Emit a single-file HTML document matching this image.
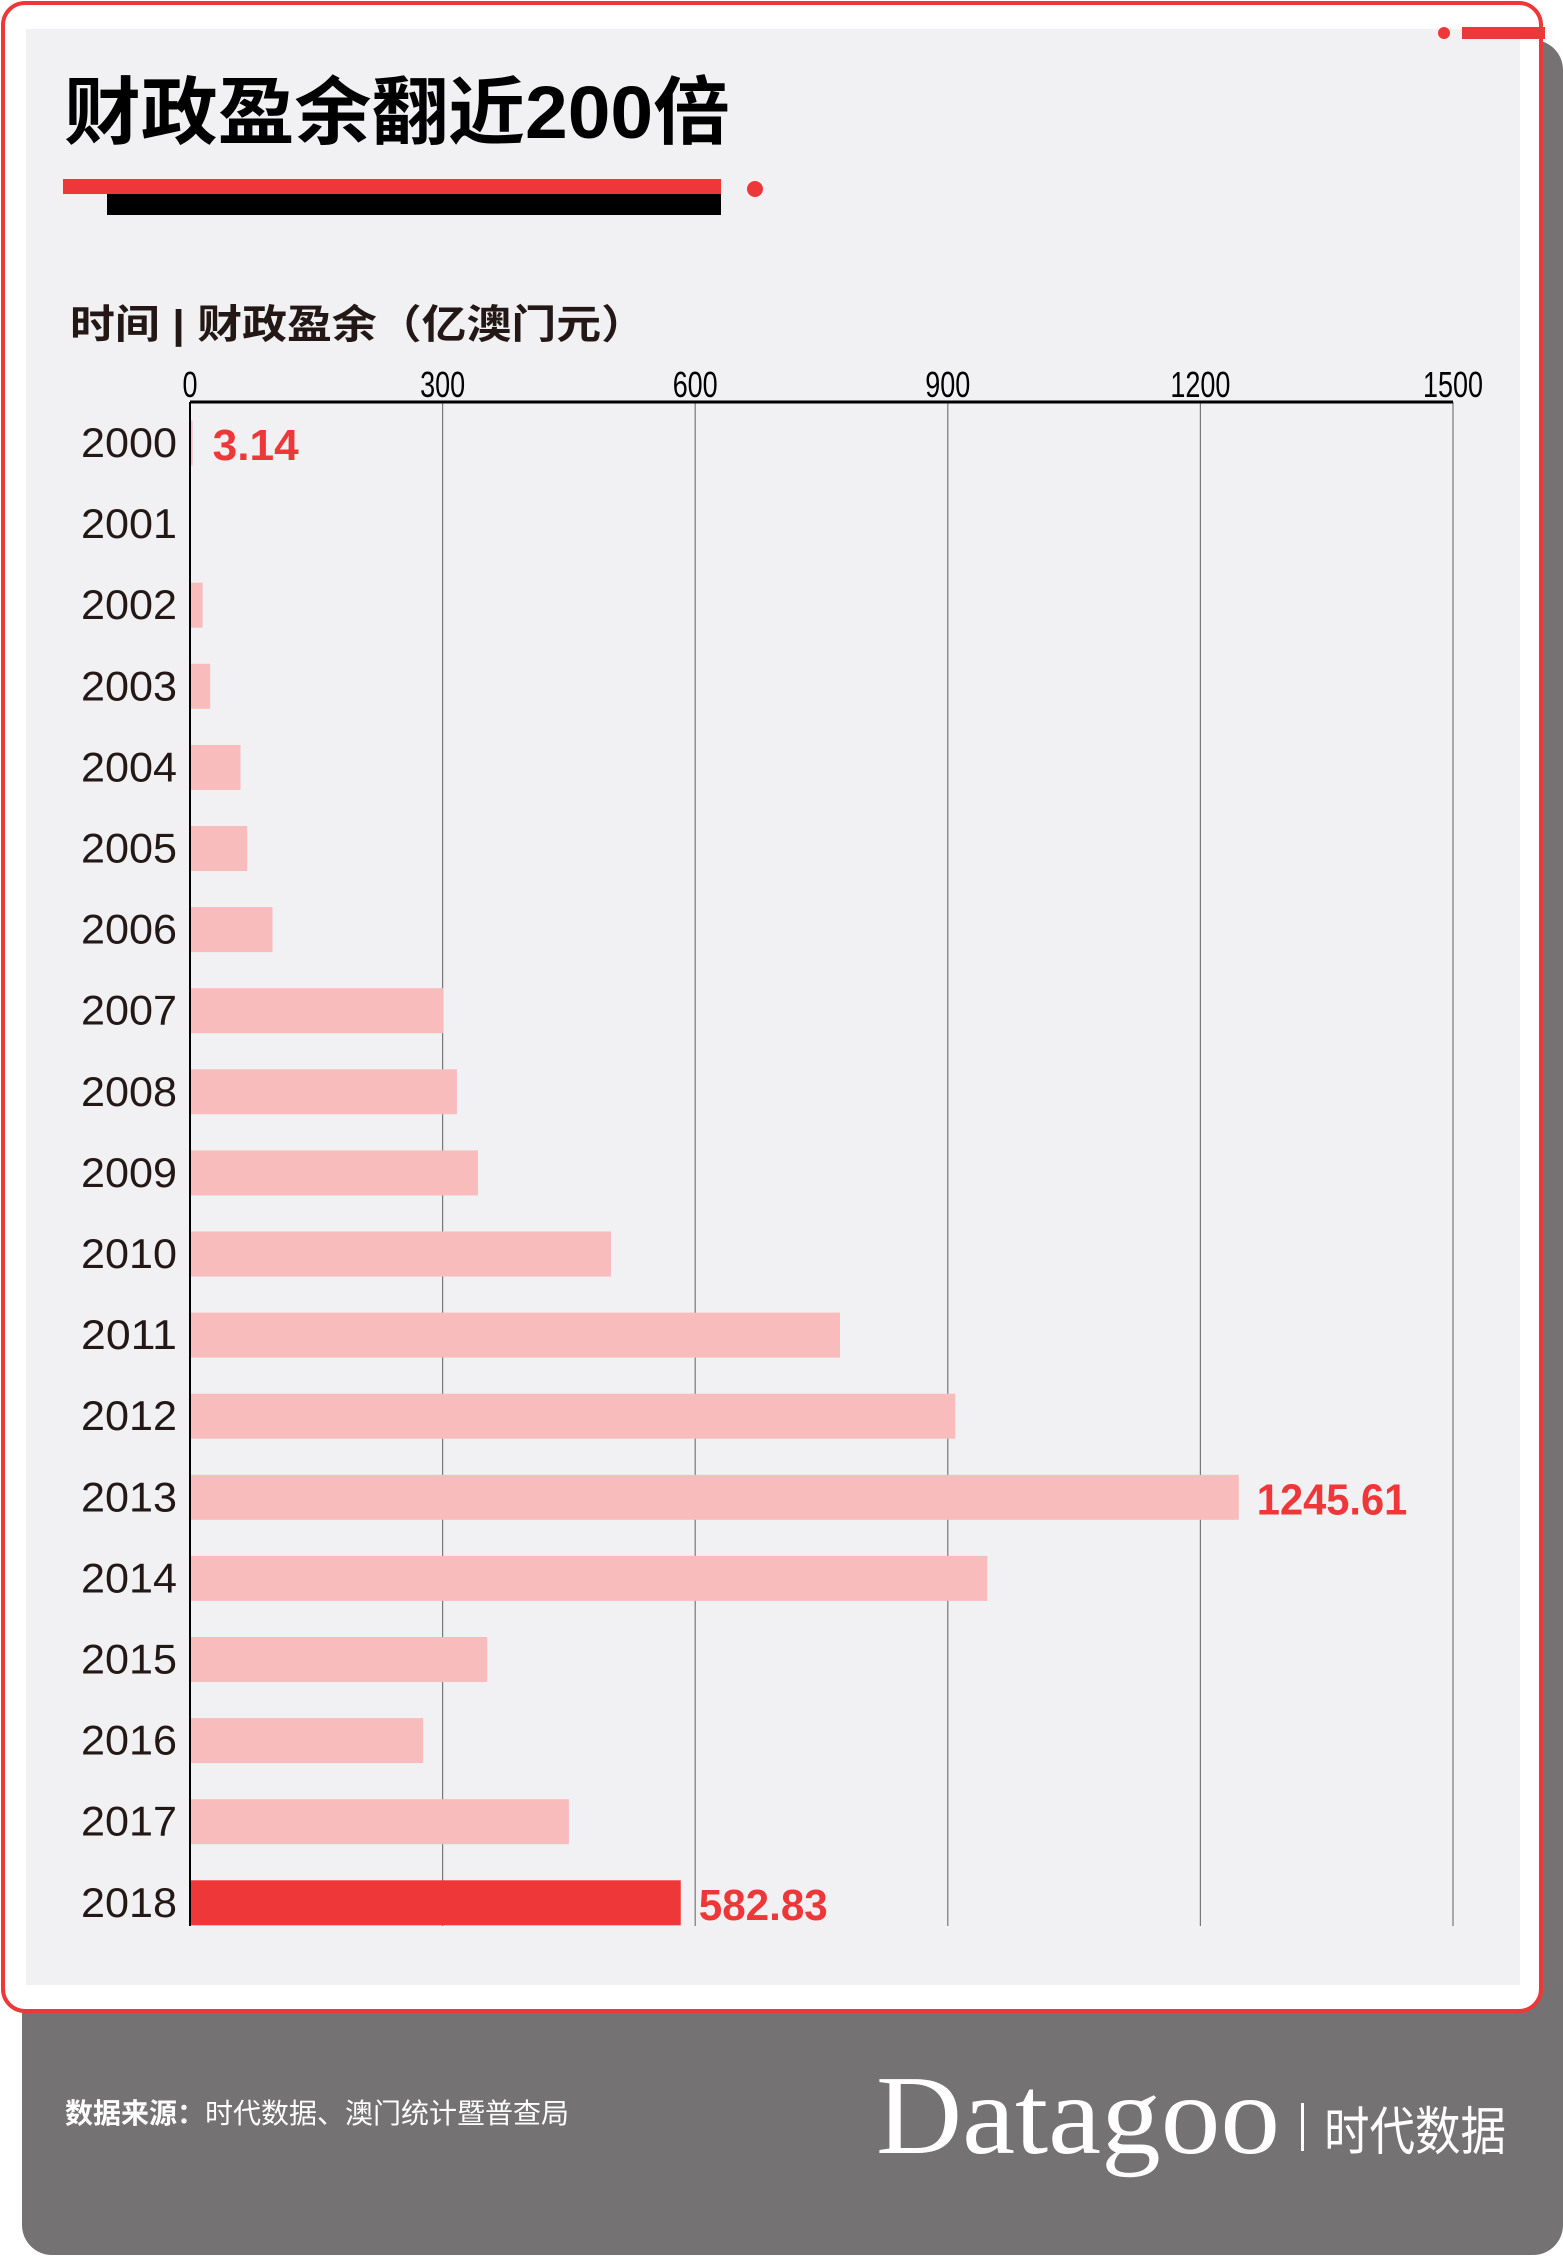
<!DOCTYPE html>
<html><head><meta charset="utf-8"><style>
html,body{margin:0;padding:0;background:#fff;}
svg{display:block;}
</style></head><body>
<svg id="chart" width="1563" height="2256" viewBox="0 0 1563 2256" xmlns="http://www.w3.org/2000/svg">
<rect x="22" y="40" width="1541" height="2215" rx="30" fill="#747273"/>
<rect x="3" y="3" width="1538" height="2008" rx="22" fill="#fff" stroke="#ee3739" stroke-width="4"/>
<rect x="26" y="29" width="1494" height="1956" fill="#f1f1f3"/>
<rect x="1462" y="27" width="83" height="12" fill="#ee3739"/>
<circle cx="1444" cy="33" r="6" fill="#ee3739"/>
<text x="64" y="138" font-family="'Liberation Sans','Noto Sans CJK SC',sans-serif" font-weight="bold" font-size="74" fill="#000" textLength="666" lengthAdjust="spacingAndGlyphs">财政盈余翻近200倍</text>
<rect x="63" y="179" width="658" height="15" fill="#ee3739"/>
<rect x="107" y="194" width="614" height="21" fill="#000"/>
<circle cx="755" cy="189" r="8" fill="#ee3739"/>
<text x="70" y="338" font-family="'Liberation Sans','Noto Sans CJK SC',sans-serif" font-weight="bold" font-size="40" fill="#231815" textLength="576" lengthAdjust="spacingAndGlyphs">时间 | 财政盈余（亿澳门元）</text>
<g id="grid"></g>
<g id="bars"></g>
<g id="labels"></g>
<text x="65" y="2123" font-family="'Liberation Sans','Noto Sans CJK SC',sans-serif" font-size="28" fill="#fff"><tspan font-weight="bold">数据来源：</tspan>时代数据、澳门统计暨普查局</text>
<text x="876" y="2153" font-family="'Liberation Serif','DejaVu Serif',serif" font-size="112" fill="#fff" textLength="404" lengthAdjust="spacingAndGlyphs">Datagoo</text>
<rect x="1301" y="2103" width="3" height="48" fill="#fff"/>
<text x="1324" y="2150" font-family="'Liberation Sans','Noto Sans CJK SC',sans-serif" font-size="52" fill="#fff" textLength="182" lengthAdjust="spacingAndGlyphs">时代数据</text>
</svg>
<script>
const years = ["2000","2001","2002","2003","2004","2005","2006","2007","2008","2009","2010","2011","2012","2013","2014","2015","2016","2017","2018"];
const surplus = [3.14,1,15,24,60,68,98,301,317,342,500,772,909,1245.61,947,353,277,450,582.83];
const ticks = [0,300,600,900,1200,1500];
const shownLabels = {"2000":"3.14","2013":"1245.61","2018":"582.83"};

const NS="http://www.w3.org/2000/svg";
const x0=190, x1=1453, maxV=1500, axisY=402, row0=443, rowStep=81.1, barH=45, gridBottom=1926;
const xs=v=>x0+(v/maxV)*(x1-x0);
const yc=i=>row0+i*rowStep;
function mk(tag,attrs,parent){const e=document.createElementNS(NS,tag);for(const k in attrs)e.setAttribute(k,attrs[k]);parent.appendChild(e);return e;}
const grid=document.getElementById('grid'),bars=document.getElementById('bars'),labels=document.getElementById('labels');
const font="'Liberation Sans Narrow','Liberation Sans',sans-serif";
ticks.forEach(t=>{
  if(t>0){const l=mk('line',{x1:xs(t),x2:xs(t),y1:axisY,y2:gridBottom,stroke:'#777','stroke-width':1.2},grid);
  
  }
  const s=String(t);
  const tx=mk('text',{x:xs(t),y:397,'text-anchor':'middle','font-family':font,'font-size':36,fill:'#000',textLength:s.length*15,lengthAdjust:'spacingAndGlyphs'},grid);
  tx.textContent=t;
  
  
});
const ax=mk('line',{x1:x0,x2:x1,y1:axisY,y2:axisY,stroke:'#000','stroke-width':3},grid);


years.forEach((y,i)=>{
  const v=surplus[i];
  const last=i===years.length-1;
  const r=mk('rect',{x:x0,y:yc(i)-barH/2,width:Math.max(xs(v)-x0,1),height:barH,fill:last?'#ee3739':(v<2?'#8a2a2a':'#f8bcbc')},bars);
  
  
  const yl=mk('text',{x:177,y:yc(i)+14,'text-anchor':'end','font-family':font,'font-size':42,fill:'#231815',textLength:96,lengthAdjust:'spacingAndGlyphs'},labels);
  yl.textContent=y;
  
  
  if(shownLabels[y]){
    const txt=shownLabels[y];
    const vl=mk('text',{x:xs(v)+(i===0?20:18),y:yc(i)+17,'font-family':font,'font-weight':'bold','font-size':44,fill:'#ee3739',textLength:txt.length*21.5,lengthAdjust:'spacingAndGlyphs'},labels);
    vl.textContent=txt;
    
    
  }
});
const za=mk('line',{x1:x0,x2:x0,y1:axisY,y2:gridBottom,stroke:'#000','stroke-width':2},labels);


</script>
</body></html>
